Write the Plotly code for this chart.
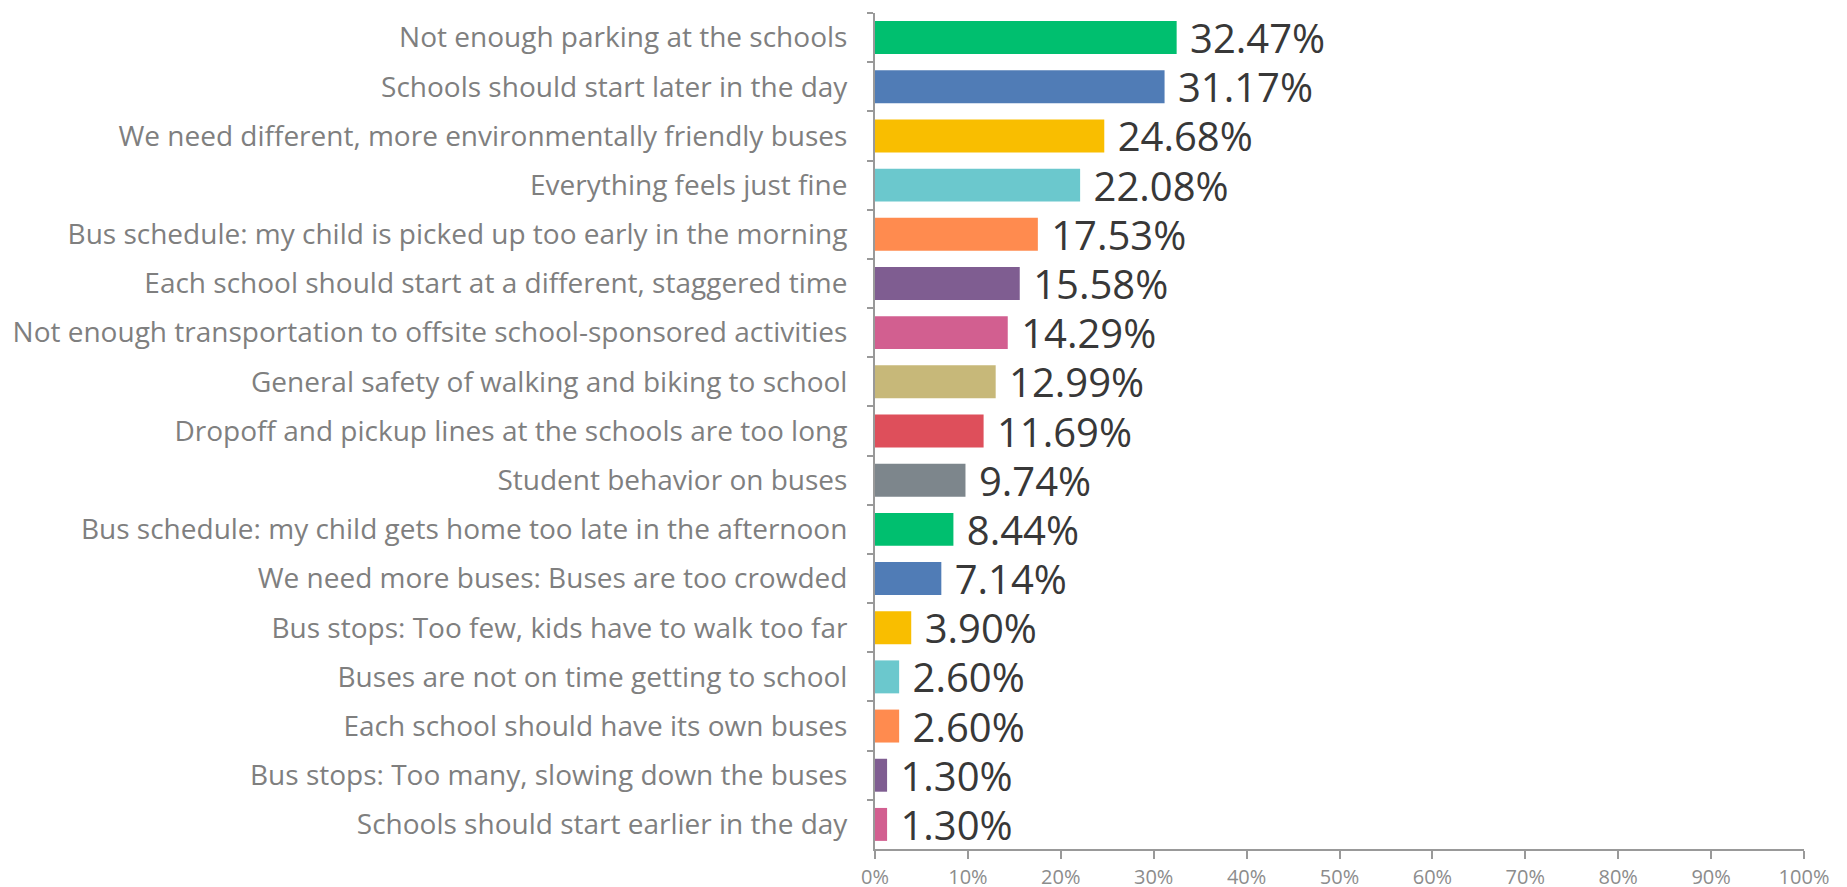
import plotly.graph_objects as go

categories = [
    "Not enough parking at the schools",
    "Schools should start later in the day",
    "We need different, more environmentally friendly buses",
    "Everything feels just fine",
    "Bus schedule: my child is picked up too early in the morning",
    "Each school should start at a different, staggered time",
    "Not enough transportation to offsite school-sponsored activities",
    "General safety of walking and biking to school",
    "Dropoff and pickup lines at the schools are too long",
    "Student behavior on buses",
    "Bus schedule: my child gets home too late in the afternoon",
    "We need more buses: Buses are too crowded",
    "Bus stops: Too few, kids have to walk too far",
    "Buses are not on time getting to school",
    "Each school should have its own buses",
    "Bus stops: Too many, slowing down the buses",
    "Schools should start earlier in the day",
]
values = [32.47, 31.17, 24.68, 22.08, 17.53, 15.58, 14.29, 12.99, 11.69, 9.74,
          8.44, 7.14, 3.90, 2.60, 2.60, 1.30, 1.30]
palette = ["#00BF6F", "#507CB6", "#F9BE00", "#6BC8CD", "#FF8B4F",
           "#7F5D91", "#D25F90", "#C7B879", "#DE4F5B", "#7D868C"]
colors = [palette[i % len(palette)] for i in range(len(categories))]
x_ticks = list(range(0, 101, 10))
x_tick_labels = [f"{t}%" for t in x_ticks]

fig = go.Figure(go.Bar(
    y=categories,
    x=values,
    orientation="h",
    marker=dict(color=colors, line=dict(width=0)),
    text=[f" {v:.2f}%" for v in values],
    textposition="outside",
    constraintext="none",
    textfont=dict(family="Open Sans", size=40, color="#383838"),
    cliponaxis=False,
    hoverinfo="skip",
))

fig.update_layout(
    width=1847, height=887,
    margin=dict(l=867, r=51, t=5, b=46),
    paper_bgcolor="white", plot_bgcolor="white",
    bargap=0.33,
    showlegend=False,
    font=dict(family="Open Sans"),
)
fig.update_yaxes(
    autorange="reversed",
    showline=True, linecolor="#999999", linewidth=2,
    ticks="outside", tickson="boundaries", ticklen=6, tickcolor="#999999", tickwidth=2,
    tickfont=dict(family="Open Sans", size=28, color="#7F7F7F"),
    ticklabelstandoff=20,
    showgrid=False,
)
fig.update_xaxes(
    range=[0, 100],
    tickvals=x_ticks, ticktext=x_tick_labels,
    showline=True, linecolor="#999999", linewidth=2,
    ticks="outside", ticklen=8, tickcolor="#999999", tickwidth=2,
    tickfont=dict(family="Open Sans", size=20, color="#8C8C8C"),
    ticklabelstandoff=1,
    showgrid=False, zeroline=False,
)

fig.write_html("out.html")
